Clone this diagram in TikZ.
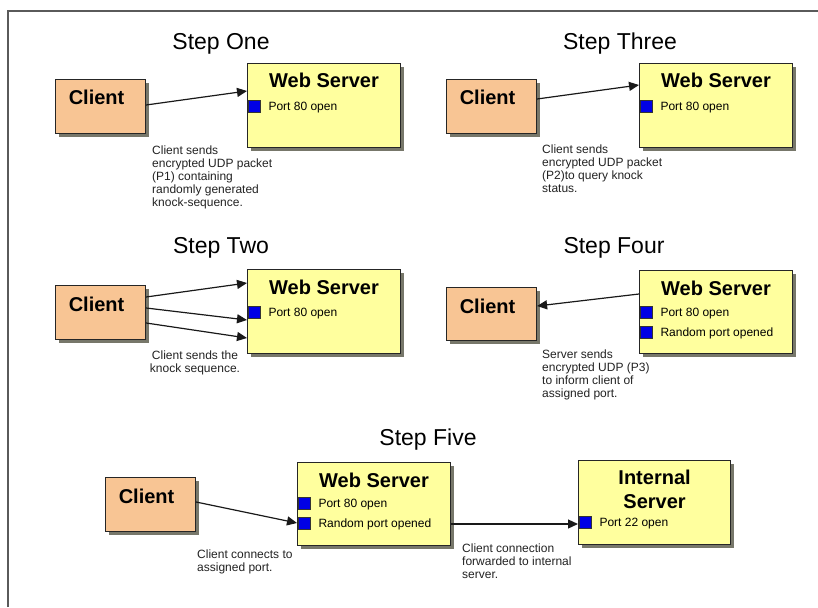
\documentclass[tikz,border=0pt]{standalone}
\usepackage{fontspec}
\setmainfont{Liberation Sans}
\usetikzlibrary{arrows.meta,shadows,calc}
\definecolor{clientfill}{HTML}{F8C594}
\definecolor{serverfill}{HTML}{FFFF9E}
\definecolor{portblue}{HTML}{0000E6}
\definecolor{framegray}{HTML}{5A5A5A}
\definecolor{shadowgray}{HTML}{77776A}
\definecolor{captiongray}{HTML}{222222}
\begin{document}
\begin{tikzpicture}[x=1pt,y=-1pt,
  box/.style={draw=black!85, line width=1.1pt, anchor=north west, inner sep=0pt,
    drop shadow={shadow xshift=3.5pt, shadow yshift=-3.5pt, fill=shadowgray, opacity=1}},
  clientbox/.style={box, fill=clientfill, minimum width=90pt, minimum height=54pt},
  serverbox/.style={box, fill=serverfill, minimum width=153pt, minimum height=84pt},
  port/.style={draw=black!80, line width=0.6pt, fill=portblue, minimum size=12pt, inner sep=0pt},
  boxtitle/.style={font=\fontsize{20}{24}\selectfont\bfseries, anchor=base, inner sep=0pt},
  steptitle/.style={font=\fontsize{23}{27}\selectfont, anchor=base, inner sep=0pt},
  porttext/.style={font=\fontsize{12}{13}\selectfont, anchor=base west, inner sep=0pt},
  caption/.style={font=\fontsize{12}{13}\selectfont, text=captiongray, anchor=north west, align=left, inner sep=0pt},
  arr/.style={line width=1.2pt, draw=black!90, -{Triangle[length=10pt,width=9pt]}}
]
\useasboundingbox (0,0) rectangle (818,607);
\draw[framegray, line width=2pt] (8,607) -- (8,11) -- (818,11);

% ---------- Step One ----------
\node[steptitle] (t1) at (221,50) {Step One};
\node[clientbox] (c1) at (55,79) {};
\node[boxtitle] (c1t) at ($(c1.north)+(-4,26)$) {Client};
\node[serverbox] (w1) at (247,63) {};
\node[boxtitle] (w1t) at ($(w1.north)+(0,25)$) {Web Server};
\node[port] (w1p) at ($(w1.north west)+(7,43)$) {};
\node[porttext] (w1pt) at ($(w1p.south east)+(8,-2)$) {Port 80 open};
\draw[arr] ($(c1.north east)+(0,26)$) -- ($(w1.north west)+(0,28)$);
\node[caption] (cap1) at (152,146) {Client sends\\encrypted UDP packet\\(P1) containing\\randomly generated\\knock-sequence.};

% ---------- Step Three ----------
\node[steptitle] (t3) at (620,50) {Step Three};
\node[clientbox] (c3) at (446,79) {};
\node[boxtitle] (c3t) at ($(c3.north)+(-4,26)$) {Client};
\node[serverbox] (w3) at (639,63) {};
\node[boxtitle] (w3t) at ($(w3.north)+(0,25)$) {Web Server};
\node[port] (w3p) at ($(w3.north west)+(7,43)$) {};
\node[porttext] (w3pt) at ($(w3p.south east)+(8,-2)$) {Port 80 open};
\draw[arr] ($(c3.north east)+(0,20)$) -- ($(w3.north west)+(0,22)$);
\node[caption] (cap3) at (542,145) {Client sends\\encrypted UDP packet\\(P2)to query knock\\status.};

% ---------- Step Two ----------
\node[steptitle] (t2) at (221,253) {Step Two};
\node[clientbox] (c2) at (55,285) {};
\node[boxtitle] (c2t) at ($(c2.north)+(-4,26)$) {Client};
\node[serverbox] (w2) at (247,269) {};
\node[boxtitle] (w2t) at ($(w2.north)+(0,25)$) {Web Server};
\node[port] (w2p) at ($(w2.north west)+(7,43)$) {};
\node[porttext] (w2pt) at ($(w2p.south east)+(8,-2)$) {Port 80 open};
\draw[arr] ($(c2.north east)+(0,12)$) -- ($(w2.north west)+(0,14)$);
\draw[arr] ($(c2.north east)+(0,23)$) -- ($(w2.north west)+(0,51)$);
\draw[arr] ($(c2.north east)+(0,38)$) -- ($(w2.north west)+(0,69)$);
\node[caption, anchor=north, align=center] (cap2) at (195,351) {Client sends the\\knock sequence.};

% ---------- Step Four ----------
\node[steptitle] (t4) at (614,253) {Step Four};
\node[clientbox, minimum height=53pt] (c4) at (446,287) {};
\node[boxtitle] (c4t) at ($(c4.north)+(-4,26)$) {Client};
\node[serverbox, minimum height=83pt] (w4) at (639,270) {};
\node[boxtitle] (w4t) at ($(w4.north)+(0,25)$) {Web Server};
\node[port] (w4p) at ($(w4.north west)+(7,42)$) {};
\node[porttext] (w4pt) at ($(w4p.south east)+(8,-2)$) {Port 80 open};
\node[port] (w4q) at ($(w4.north west)+(7,62)$) {};
\node[porttext] (w4qt) at ($(w4q.south east)+(8,-2)$) {Random port opened};
\draw[arr] ($(w4.north west)+(0,24)$) -- ($(c4.north east)+(0,19)$);
\node[caption] (cap4) at (542,350) {Server sends\\encrypted UDP (P3)\\to inform client of\\assigned port.};

% ---------- Step Five ----------
\node[steptitle] (t5) at (428,445) {Step Five};
\node[clientbox] (c5) at (105,477) {};
\node[boxtitle] (c5t) at ($(c5.north)+(-4,26)$) {Client};
\node[serverbox, minimum height=83pt] (w5) at (297,462) {};
\node[boxtitle] (w5t) at ($(w5.north)+(0,25)$) {Web Server};
\node[port] (w5p) at ($(w5.north west)+(7,41)$) {};
\node[porttext] (w5pt) at ($(w5p.south east)+(8,-2)$) {Port 80 open};
\node[port] (w5q) at ($(w5.north west)+(7,61)$) {};
\node[porttext] (w5qt) at ($(w5q.south east)+(8,-2)$) {Random port opened};
\draw[arr] ($(c5.north east)+(0,25)$) -- ($(w5.north west)+(0,61)$);
\node[caption] (cap5) at (197,550) {Client connects to\\assigned port.};

\node[serverbox, minimum width=152pt] (i5) at (578,460) {};
\node[boxtitle] (i5t) at ($(i5.north)+(0,24)$) {Internal};
\node[boxtitle] (i5u) at ($(i5.north)+(0,48)$) {Server};
\node[port] (i5p) at ($(i5.north west)+(7,62)$) {};
\node[porttext] (i5pt) at ($(i5p.south east)+(8,-2)$) {Port 22 open};
\draw[arr] ($(w5.north east)+(0,62)$) -- ($(i5.north west)+(0,64)$);
\node[caption] (cap6) at (462,544) {Client connection\\forwarded to internal\\server.};
\end{tikzpicture}
\end{document}
